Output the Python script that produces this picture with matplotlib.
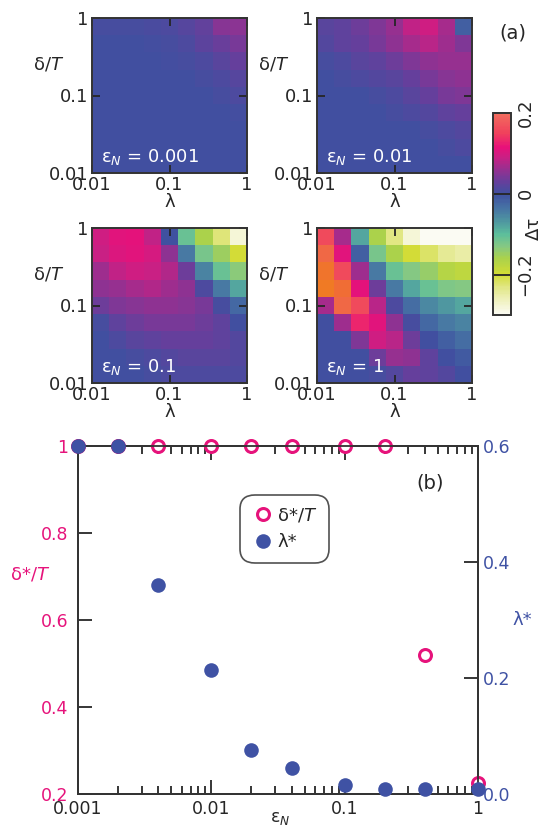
import numpy as np
import matplotlib
matplotlib.use("Agg")
import matplotlib.pyplot as plt
from matplotlib.colors import LinearSegmentedColormap, Normalize
from matplotlib.cm import ScalarMappable
from matplotlib.lines import Line2D
from matplotlib.ticker import FixedLocator, NullFormatter, LogLocator

plt.rcParams['font.family'] = ['DejaVu Sans']
plt.rcParams['mathtext.fontset'] = 'dejavusans'

# ---- data -------------------------------------------------------------
# heat maps: rows top (delta/T = 1) -> bottom (0.01), columns lambda 0.01 -> 1
lam_edges = np.logspace(-2, 0, 10)
delta_edges = np.logspace(-2, 0, 10)

dtau_eps0001 = [
    [0.005, 0.005, 0.005, 0.008, 0.010, 0.018, 0.028, 0.050, 0.052],
    [0.000, 0.000, 0.002, 0.004, 0.006, 0.010, 0.022, 0.032, 0.040],
    [0.000, 0.000, 0.000, 0.000, 0.003, 0.005, 0.010, 0.020, 0.030],
    [0.000, 0.000, 0.000, 0.000, 0.000, 0.002, 0.005, 0.010, 0.018],
    [0.000, 0.000, 0.000, 0.000, 0.000, 0.000, 0.002, 0.005, 0.010],
    [0.000, 0.000, 0.000, 0.000, 0.000, 0.000, 0.000, 0.002, 0.004],
    [0.000, 0.000, 0.000, 0.000, 0.000, 0.000, 0.000, 0.000, 0.000],
    [0.000, 0.000, 0.000, 0.000, 0.000, 0.000, 0.000, 0.000, 0.000],
    [0.000, 0.000, 0.000, 0.000, 0.000, 0.000, 0.000, 0.000, 0.000],
]

dtau_eps001 = [
    [0.020, 0.025, 0.035, 0.045, 0.060, 0.085, 0.095, 0.070, -0.015],
    [0.015, 0.025, 0.030, 0.040, 0.055, 0.070, 0.080, 0.065, 0.045],
    [0.005, 0.010, 0.020, 0.025, 0.035, 0.045, 0.055, 0.060, 0.060],
    [0.000, 0.005, 0.010, 0.015, 0.020, 0.030, 0.040, 0.050, 0.055],
    [0.000, 0.000, 0.000, 0.005, 0.010, 0.020, 0.030, 0.040, 0.045],
    [0.000, 0.000, 0.000, 0.000, 0.005, 0.010, 0.015, 0.025, 0.030],
    [0.000, 0.000, 0.000, 0.000, 0.000, 0.000, 0.005, 0.010, 0.015],
    [0.000, 0.000, 0.000, 0.000, 0.000, 0.000, 0.000, 0.005, 0.010],
    [0.000, 0.000, 0.000, 0.000, 0.000, 0.000, 0.000, 0.000, 0.000],
]

dtau_eps01 = [
    [0.095, 0.110, 0.112, 0.085, -0.002, -0.110, -0.160, -0.225, -0.280],
    [0.090, 0.105, 0.108, 0.100, 0.055, -0.040, -0.120, -0.150, -0.200],
    [0.065, 0.085, 0.095, 0.090, 0.075, 0.035, -0.050, -0.110, -0.135],
    [0.055, 0.060, 0.070, 0.075, 0.065, 0.055, 0.010, -0.040, -0.080],
    [0.035, 0.045, 0.050, 0.055, 0.055, 0.050, 0.040, 0.005, -0.025],
    [0.005, 0.025, 0.035, 0.040, 0.040, 0.040, 0.035, 0.025, 0.000],
    [0.000, 0.010, 0.020, 0.025, 0.030, 0.030, 0.030, 0.025, 0.015],
    [0.000, 0.000, 0.005, 0.010, 0.015, 0.020, 0.020, 0.020, 0.015],
    [0.000, 0.000, 0.000, 0.005, 0.010, 0.010, 0.010, 0.010, 0.010],
]

dtau_eps1 = [
    [0.160, 0.070, -0.080, -0.160, -0.230, -0.280, -0.300, -0.300, -0.300],
    [0.230, 0.110, -0.015, -0.120, -0.160, -0.200, -0.220, -0.240, -0.250],
    [0.280, 0.160, 0.065, -0.040, -0.110, -0.130, -0.145, -0.170, -0.180],
    [0.300, 0.260, 0.112, 0.035, -0.040, -0.080, -0.110, -0.125, -0.130],
    [0.070, 0.230, 0.160, 0.080, 0.010, -0.030, -0.055, -0.070, -0.080],
    [0.000, 0.065, 0.130, 0.110, 0.055, 0.005, -0.025, -0.040, -0.050],
    [0.000, 0.000, 0.045, 0.095, 0.080, 0.035, 0.000, -0.015, -0.030],
    [0.000, 0.000, 0.000, 0.035, 0.060, 0.055, 0.025, 0.000, -0.010],
    [0.000, 0.000, 0.000, 0.005, 0.015, 0.030, 0.025, 0.015, 0.000],
]

panel_data = [dtau_eps0001, dtau_eps001, dtau_eps01, dtau_eps1]
panel_labels = ['ε$_N$ = 0.001', 'ε$_N$ = 0.01', 'ε$_N$ = 0.1', 'ε$_N$ = 1']

# panel (b)
eps_n = [0.001, 0.002, 0.004, 0.01, 0.02, 0.04, 0.1, 0.2, 0.4, 1.0]
delta_star = [1.0, 1.0, 1.0, 1.0, 1.0, 1.0, 1.0, 1.0, 0.52, 0.225]
lam_star = [0.6, 0.6, 0.36, 0.214, 0.076, 0.045, 0.016, 0.009, 0.009, 0.009]

pink = '#e6137b'
blue = '#3f52a4'
dark = '#262626'

# colour map, value -> colour
cm_vals = [-0.30, -0.26, -0.23, -0.20, -0.16, -0.13, -0.10, -0.07, -0.035,
           0.0, 0.03, 0.06, 0.09, 0.115, 0.15, 0.20, 0.24, 0.30]
cm_cols = ['#fbfbf3', '#eef0b8', '#e0e680', '#d2dc34', '#aad24c', '#84c884',
           '#5cbe9c', '#4f98a0', '#4672a4', '#3f50a0', '#663f9c', '#963090',
           '#c82084', '#e8107a', '#f0405c', '#f26e5e', '#f0663e', '#f07a24']
vmin, vmax = -0.3, 0.3
cmap = LinearSegmentedColormap.from_list(
    'dtau', [((v - vmin) / (vmax - vmin), c) for v, c in zip(cm_vals, cm_cols)])
norm = Normalize(vmin, vmax)

# ---- figure ------------------------------------------------------------
W, H = 546, 827
fig = plt.figure(figsize=(W / 100, H / 100), dpi=100)

def px(x0, y0, x1, y1):
    return [x0 / W, 1 - y1 / H, (x1 - x0) / W, (y1 - y0) / H]

boxes = [px(92, 18, 247, 173), px(317, 18, 472, 173),
         px(92, 228, 247, 383), px(317, 228, 472, 383)]

for box, Z, lab in zip(boxes, panel_data, panel_labels):
    ax = fig.add_axes(box)
    ax.pcolormesh(lam_edges, delta_edges, np.array(Z)[::-1], cmap=cmap, norm=norm)
    ax.set_xscale('log')
    ax.set_yscale('log')
    ax.set_xlim(0.01, 1)
    ax.set_ylim(0.01, 1)
    ax.xaxis.set_major_locator(FixedLocator([0.01, 0.1, 1]))
    ax.yaxis.set_major_locator(FixedLocator([0.01, 0.1, 1]))
    ax.set_xticklabels(['0.01', '0.1', '1'])
    ax.set_yticklabels(['0.01', '0.1', '1'])
    ax.minorticks_off()
    ax.tick_params(direction='in', length=5.5, width=1.3, top=True, right=True,
                   labelsize=13, colors=dark, pad=2.5)
    for s in ax.spines.values():
        s.set_linewidth(1.4)
        s.set_color('#333333')
    ax.set_xlabel('λ', fontsize=13, color=dark, labelpad=-1)
    ax.text(-0.28, 0.70, 'δ/$T$', transform=ax.transAxes, fontsize=13,
            color=dark, ha='center', va='center')
    ax.text(0.06, 0.07, lab, transform=ax.transAxes, fontsize=13,
            color='white', ha='left', va='baseline')

# colour bar, shown from -0.3 to 0.2
cax = fig.add_axes(px(493, 113, 511, 315))
sm = ScalarMappable(norm=norm, cmap=cmap)
cb = fig.colorbar(sm, cax=cax, boundaries=np.linspace(-0.3, 0.2, 256))
cb.set_ticks([-0.2, 0.0, 0.2])
cb.set_ticklabels(['−0.2', '0', '0.2'])
cax.tick_params(direction='in', length=13, width=1.3, labelsize=13,
                colors=dark, pad=4)
for t in cax.get_yticklabels():
    t.set_rotation(90)
    t.set_va('center')
cb.outline.set_linewidth(1.4)
cb.outline.set_edgecolor('#333333')
cax.text(2.25, 0.43, 'Δτ', transform=cax.transAxes, rotation=90,
         fontsize=13, color=dark, ha='center', va='center')

fig.text(0.94, 0.96, '(a)', fontsize=14, color=dark, ha='center', va='center')

# ---- panel (b) ---------------------------------------------------------
ax = fig.add_axes(px(78, 446, 478, 794))
ax2 = ax.twinx()
ax.set_xscale('log')
ax.set_xlim(0.001, 1)
ax.set_ylim(0.2, 1.0)
ax2.set_ylim(0.0, 0.6)

ax.plot(eps_n, delta_star, 'o', ms=8.6, mfc='white', mec=pink, mew=2.2,
        clip_on=False, zorder=5)
ax2.plot(eps_n, lam_star, 'o', ms=10.5, mfc=blue, mec=blue, mew=0,
         clip_on=False, zorder=6)

ax.xaxis.set_major_locator(FixedLocator([0.001, 0.01, 0.1, 1]))
ax.set_xticklabels(['0.001', '0.01', '0.1', '1'])
ax.xaxis.set_minor_locator(LogLocator(base=10, subs=np.arange(2, 10)))
ax.xaxis.set_minor_formatter(NullFormatter())
ax.set_yticks([0.2, 0.4, 0.6, 0.8, 1.0])
ax.set_yticklabels(['0.2', '0.4', '0.6', '0.8', '1'])
ax2.set_yticks([0.0, 0.2, 0.4, 0.6])
ax2.set_yticklabels(['0.0', '0.2', '0.4', '0.6'])

ax.tick_params(axis='x', which='major', direction='in', length=10, width=1.3,
               top=True, labelsize=12.5, colors=dark, pad=4)
ax.tick_params(axis='x', which='minor', direction='in', length=5.5, width=1.1,
               top=True)
ax.tick_params(axis='y', direction='in', length=10, width=1.3, labelsize=12.5,
               colors=dark, labelcolor=pink, pad=7)
ax2.tick_params(axis='y', direction='in', length=10, width=1.3, labelsize=12.5,
                colors=dark, labelcolor=blue, pad=3.5)
for a in (ax, ax2):
    for s in a.spines.values():
        s.set_linewidth(1.3)
        s.set_color('#333333')

# x label sits tight under the tick labels, as in the original
ax.text(0.505, -0.068, 'ε$_N$', transform=ax.transAxes, fontsize=12.5,
        color=dark, ha='center', va='center')
ax.text(-0.12, 0.63, 'δ*/$T$', transform=ax.transAxes, fontsize=13,
        color=pink, ha='center', va='center')
ax.text(1.11, 0.50, 'λ*', transform=ax.transAxes, fontsize=13,
        color=blue, ha='center', va='center')
ax.text(0.88, 0.893, '(b)', transform=ax.transAxes, fontsize=14,
        color=dark, ha='center', va='center')

handles = [Line2D([], [], ls='none', marker='o', ms=8.6, mfc='white', mec=pink, mew=2.2),
           Line2D([], [], ls='none', marker='o', ms=10.5, mfc=blue, mec=blue, mew=0)]
leg = ax.legend(handles, ['δ*/$T$', 'λ*'], loc='upper left',
                bbox_to_anchor=(0.415, 0.85), fontsize=13, frameon=True,
                fancybox=True, handletextpad=0.2, borderpad=0.45,
                handlelength=1.2, labelspacing=0.5, borderaxespad=0)
leg.get_frame().set_edgecolor(dark)
leg.get_frame().set_linewidth(1.2)
leg.get_frame().set_boxstyle('round', pad=0.2, rounding_size=0.8)
for t in leg.get_texts():
    t.set_color(dark)
leg.set_zorder(10)

fig.savefig('out.png', dpi=100)
